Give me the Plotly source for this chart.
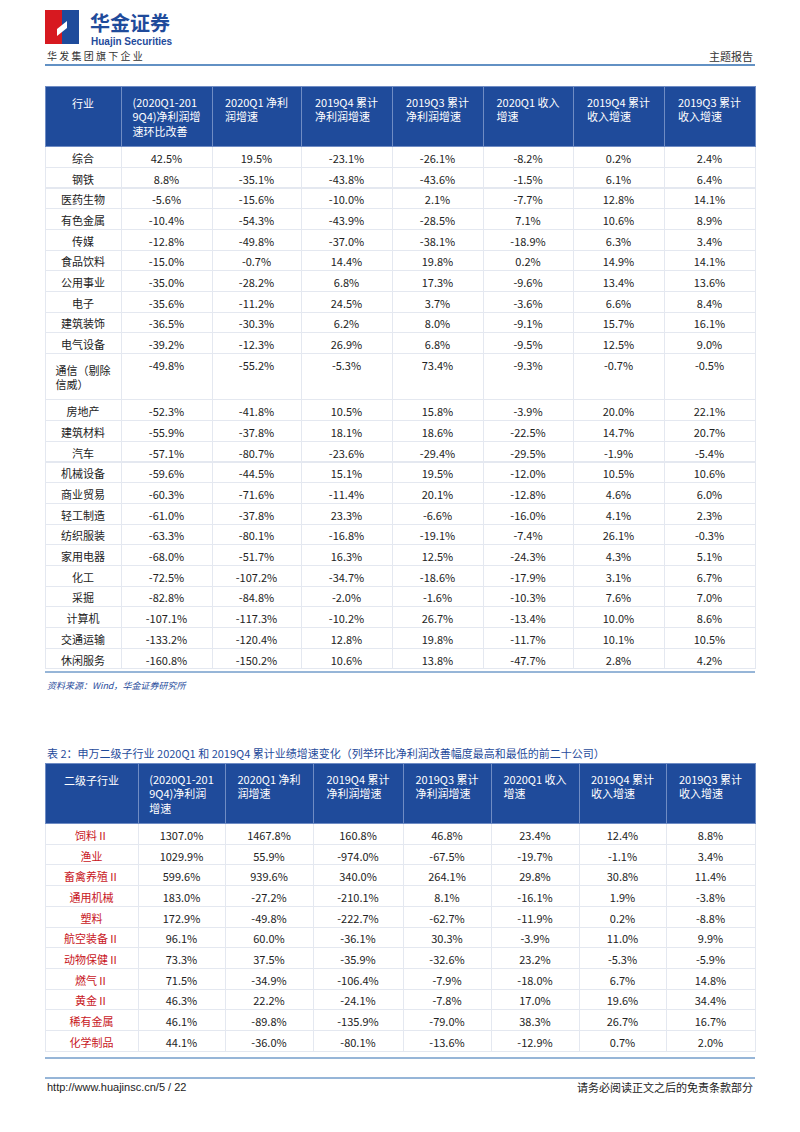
import plotly.graph_objects as go

W, H = 800, 1132
BLUE = "#1f4b9b"
FONT = "Noto Sans CJK SC, Liberation Sans, sans-serif"

# ---- table 1 data ----
t1_head = ["<br>行业", "(2020Q1-201<br>9Q4)净利润增<br>速环比改善", "2020Q1 净利<br>润增速",
           "2019Q4 累计<br>净利润增速", "2019Q3 累计<br>净利润增速", "2020Q1 收入<br>增速",
           "2019Q4 累计<br>收入增速", "2019Q3 累计<br>收入增速"]
t1_ind = ["综合", "钢铁", "医药生物", "有色金属", "传媒", "食品饮料", "公用事业", "电子", "建筑装饰",
          "电气设备", "通信（剔除<br>信威）", "房地产", "建筑材料", "汽车", "机械设备", "商业贸易",
          "轻工制造", "纺织服装", "家用电器", "化工", "采掘", "计算机", "交通运输", "休闲服务"]
t1_qoq = ["42.5%", "8.8%", "-5.6%", "-10.4%", "-12.8%", "-15.0%", "-35.0%", "-35.6%", "-36.5%",
          "-39.2%", "-49.8%", "-52.3%", "-55.9%", "-57.1%", "-59.6%", "-60.3%", "-61.0%", "-63.3%",
          "-68.0%", "-72.5%", "-82.8%", "-107.1%", "-133.2%", "-160.8%"]
t1_np20q1 = ["19.5%", "-35.1%", "-15.6%", "-54.3%", "-49.8%", "-0.7%", "-28.2%", "-11.2%", "-30.3%",
             "-12.3%", "-55.2%", "-41.8%", "-37.8%", "-80.7%", "-44.5%", "-71.6%", "-37.8%", "-80.1%",
             "-51.7%", "-107.2%", "-84.8%", "-117.3%", "-120.4%", "-150.2%"]
t1_np19q4 = ["-23.1%", "-43.8%", "-10.0%", "-43.9%", "-37.0%", "14.4%", "6.8%", "24.5%", "6.2%",
             "26.9%", "-5.3%", "10.5%", "18.1%", "-23.6%", "15.1%", "-11.4%", "23.3%", "-16.8%",
             "16.3%", "-34.7%", "-2.0%", "-10.2%", "12.8%", "10.6%"]
t1_np19q3 = ["-26.1%", "-43.6%", "2.1%", "-28.5%", "-38.1%", "19.8%", "17.3%", "3.7%", "8.0%",
             "6.8%", "73.4%", "15.8%", "18.6%", "-29.4%", "19.5%", "20.1%", "-6.6%", "-19.1%",
             "12.5%", "-18.6%", "-1.6%", "26.7%", "19.8%", "13.8%"]
t1_rv20q1 = ["-8.2%", "-1.5%", "-7.7%", "7.1%", "-18.9%", "0.2%", "-9.6%", "-3.6%", "-9.1%",
             "-9.5%", "-9.3%", "-3.9%", "-22.5%", "-29.5%", "-12.0%", "-12.8%", "-16.0%", "-7.4%",
             "-24.3%", "-17.9%", "-10.3%", "-13.4%", "-11.7%", "-47.7%"]
t1_rv19q4 = ["0.2%", "6.1%", "12.8%", "10.6%", "6.3%", "14.9%", "13.4%", "6.6%", "15.7%",
             "12.5%", "-0.7%", "20.0%", "14.7%", "-1.9%", "10.5%", "4.6%", "4.1%", "26.1%",
             "4.3%", "3.1%", "7.6%", "10.0%", "10.1%", "2.8%"]
t1_rv19q3 = ["2.4%", "6.4%", "14.1%", "8.9%", "3.4%", "14.1%", "13.6%", "8.4%", "16.1%",
             "9.0%", "-0.5%", "22.1%", "20.7%", "-5.4%", "10.6%", "6.0%", "2.3%", "-0.3%",
             "5.1%", "6.7%", "7.0%", "8.6%", "10.5%", "4.2%"]

# ---- table 2 data ----
t2_head = ["<br>二级子行业", "(2020Q1-201<br>9Q4)净利润<br>增速", "2020Q1 净利<br>润增速",
           "2019Q4 累计<br>净利润增速", "2019Q3 累计<br>净利润增速", "2020Q1 收入<br>增速",
           "2019Q4 累计<br>收入增速", "2019Q3 累计<br>收入增速"]
t2_ind = ["饲料Ⅱ", "渔业", "畜禽养殖Ⅱ", "通用机械", "塑料", "航空装备Ⅱ", "动物保健Ⅱ", "燃气Ⅱ",
          "黄金Ⅱ", "稀有金属", "化学制品"]
t2_qoq = ["1307.0%", "1029.9%", "599.6%", "183.0%", "172.9%", "96.1%", "73.3%", "71.5%", "46.3%", "46.1%", "44.1%"]
t2_np20q1 = ["1467.8%", "55.9%", "939.6%", "-27.2%", "-49.8%", "60.0%", "37.5%", "-34.9%", "22.2%", "-89.8%", "-36.0%"]
t2_np19q4 = ["160.8%", "-974.0%", "340.0%", "-210.1%", "-222.7%", "-36.1%", "-35.9%", "-106.4%", "-24.1%", "-135.9%", "-80.1%"]
t2_np19q3 = ["46.8%", "-67.5%", "264.1%", "8.1%", "-62.7%", "30.3%", "-32.6%", "-7.9%", "-7.8%", "-79.0%", "-13.6%"]
t2_rv20q1 = ["23.4%", "-19.7%", "29.8%", "-16.1%", "-11.9%", "-3.9%", "23.2%", "-18.0%", "17.0%", "38.3%", "-12.9%"]
t2_rv19q4 = ["12.4%", "-1.1%", "30.8%", "1.9%", "0.2%", "11.0%", "-5.3%", "6.7%", "19.6%", "26.7%", "0.7%"]
t2_rv19q3 = ["8.8%", "3.4%", "11.4%", "-3.8%", "-8.8%", "9.9%", "-5.9%", "14.8%", "34.4%", "16.7%", "2.0%"]

OFF = 8  # page body margin shifts the whole figure by this much


def px(x):
    return (x - OFF) / W


def py(y):
    return 1 - (y - OFF) / H


fig = go.Figure()

fig.add_trace(go.Table(
    domain=dict(x=[px(45), px(755)], y=[py(672), py(86)]),
    columnwidth=[76, 91, 89, 91, 91, 90, 91, 91],
    header=dict(values=t1_head, fill_color=BLUE, line_color="#6f8cc4", height=20,
                font=dict(color="white", size=11, family=FONT), align="center"),
    cells=dict(values=[t1_ind, t1_qoq, t1_np20q1, t1_np19q4, t1_np19q3, t1_rv20q1, t1_rv19q4, t1_rv19q3],
               fill_color="white", line_color="#e4e8f0", height=20.7,
               font=dict(color="#222", size=11, family=FONT), align="center"),
))

fig.add_trace(go.Table(
    domain=dict(x=[px(45), px(755)], y=[py(1059), py(763)]),
    columnwidth=[93, 87, 88, 90, 88, 88, 87, 89],
    header=dict(values=t2_head, fill_color=BLUE, line_color="#6f8cc4", height=20,
                font=dict(color="white", size=11, family=FONT), align="center"),
    cells=dict(values=[t2_ind, t2_qoq, t2_np20q1, t2_np19q4, t2_np19q3, t2_rv20q1, t2_rv19q4, t2_rv19q3],
               fill_color="white", line_color="#e4e8f0", height=20.7,
               font=dict(color=[["#c8161d"] * len(t2_ind)] + [["#222"] * len(t2_ind)] * 7,
                         size=11, family=FONT), align="center"),
))

shapes = [
    # logo
    dict(type="rect", x0=px(45), x1=px(62), y0=py(44), y1=py(10), fillcolor="#d71920", line_width=0),
    dict(type="rect", x0=px(62), x1=px(79), y0=py(44), y1=py(10), fillcolor="#1f4b9b", line_width=0),
    dict(type="path", path=f"M {px(57)} {py(29)} L {px(67)} {py(21)} L {px(67)} {py(28)} L {px(57)} {py(36)} Z",
         fillcolor="white", line_width=0),
    # header line
    dict(type="line", x0=px(45), x1=px(755), y0=py(65), y1=py(65), line=dict(color="#2e6db0", width=1.5)),
    dict(type="line", x0=px(45), x1=px(755), y0=py(672), y1=py(672), line=dict(color="#2e6db0", width=1)),
    dict(type="line", x0=px(45), x1=px(755), y0=py(1058), y1=py(1058), line=dict(color="#2e6db0", width=1)),
    # footer line
    dict(type="line", x0=px(45), x1=px(755), y0=py(1078), y1=py(1078), line=dict(color="#2e6db0", width=1)),
]

ann = [
    dict(x=px(88), y=py(23), text="<b>华金证券</b>", font=dict(size=20, color="#1f4b9b", family=FONT), xanchor="left"),
    dict(x=px(89), y=py(42), text="<b>Huajin Securities</b>", font=dict(size=10, color="#1f4b9b", family="Liberation Sans"), xanchor="left"),
    dict(x=px(45), y=py(56), text="华 发 集 团 旗 下 企 业", font=dict(size=10, color="#333", family=FONT), xanchor="left"),
    dict(x=px(755), y=py(56), text="主题报告", font=dict(size=11, color="#333", family=FONT), xanchor="right"),
    dict(x=px(45), y=py(685), text="<i>资料来源：Wind，华金证券研究所</i>", font=dict(size=9, color="#1f4b9b", family=FONT), xanchor="left"),
    dict(x=px(45), y=py(753), text="表 2：申万二级子行业 2020Q1 和 2019Q4 累计业绩增速变化（列举环比净利润改善幅度最高和最低的前二十公司）",
         font=dict(size=11, color="#1f4b9b", family=FONT), xanchor="left"),
    dict(x=px(45), y=py(1087), text="http://www.huajinsc.cn/5 / 22", font=dict(size=11, color="#222", family="Liberation Sans"), xanchor="left"),
    dict(x=px(755), y=py(1087), text="请务必阅读正文之后的免责条款部分", font=dict(size=11, color="#222", family=FONT), xanchor="right"),
]
for a in ann:
    a.update(xref="paper", yref="paper", showarrow=False, yanchor="middle")

fig.update_layout(width=W, height=H, margin=dict(l=0, r=0, t=0, b=0),
                  paper_bgcolor="white", plot_bgcolor="white",
                  shapes=shapes, annotations=ann)

fig.write_html("out.html")
